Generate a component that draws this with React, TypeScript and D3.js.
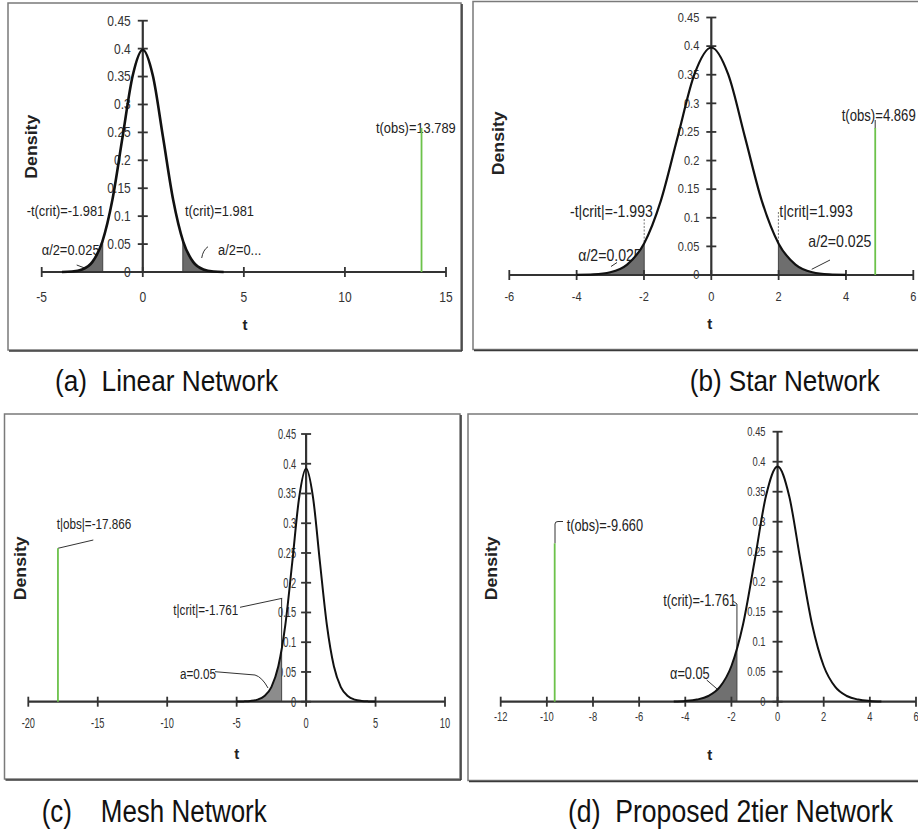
import React from 'react';
import * as d3 from 'd3';

// ---------- data ----------
// density curves (t, density) for each panel
const tGridLinear = [-4, -3.5, -3, -2.5, -2, -1.5, -1, -0.5, 0, 0.5, 1, 1.5, 2, 2.5, 3, 3.5, 4];
const densityLinear = [0.0001, 0.0009, 0.0045, 0.0177, 0.0545, 0.1298, 0.2416, 0.3513, 0.398, 0.3513, 0.2416, 0.1298, 0.0545, 0.0177, 0.0045, 0.0009, 0.0001];

const tGridStar = [-4, -3.5, -3, -2.5, -2, -1.5, -1, -0.5, 0, 0.5, 1, 1.5, 2, 2.5, 3, 3.5, 4];
const densityStar = [0.0002, 0.001, 0.0048, 0.0182, 0.0548, 0.1296, 0.241, 0.351, 0.3976, 0.351, 0.241, 0.1296, 0.0548, 0.0182, 0.0048, 0.001, 0.0002];

const tGridMesh = [-5, -4.5, -4, -3.5, -3, -2.5, -2, -1.5, -1, -0.5, 0, 0.5, 1, 1.5, 2, 2.5, 3, 3.5, 4, 4.5, 5];
const densityMesh = [0.0002, 0.0005, 0.0013, 0.0035, 0.0095, 0.0246, 0.0595, 0.1282, 0.2336, 0.3432, 0.392, 0.3432, 0.2336, 0.1282, 0.0595, 0.0246, 0.0095, 0.0035, 0.0013, 0.0005, 0.0002];

const tGrid2tier = [-4.5, -4, -3.5, -3, -2.5, -2, -1.5, -1, -0.5, 0, 0.5, 1, 1.5, 2, 2.5, 3, 3.5, 4, 4.5];
const density2tier = [0.0005, 0.0013, 0.0035, 0.0095, 0.0246, 0.0595, 0.1282, 0.2336, 0.3432, 0.392, 0.3432, 0.2336, 0.1282, 0.0595, 0.0246, 0.0095, 0.0035, 0.0013, 0.0005];

// critical values, density at the critical value, observed t and height of its marker
const tCritValues = [1.981, 1.993, -1.761, -1.761];
const critDensity = [0.0562, 0.0555, 0.0874, 0.0874];
const twoTailed = [true, true, false, false];
const tObsValues = [13.789, 4.869, -17.866, -9.66];
const obsMarkerHeight = [0.258, 0.257, 0.258, 0.264];

// axis ticks
const xTicksLinear = [-5, 0, 5, 10, 15];
const xTicksStar = [-6, -4, -2, 0, 2, 4, 6];
const xTicksMesh = [-20, -15, -10, -5, 0, 5, 10];
const xTicks2tier = [-12, -10, -8, -6, -4, -2, 0, 2, 4, 6];
const yTicks = [0, 0.05, 0.1, 0.15, 0.2, 0.25, 0.3, 0.35, 0.4, 0.45];
const yTickLabels = ['0', '0.05', '0.1', '0.15', '0.2', '0.25', '0.3', '0.35', '0.4', '0.45'];

// texts
const captions = ['(a)  Linear Network', '(b) Star Network', '(c)    Mesh Network', '(d)  Proposed 2tier Network'];
const annotLinear = ['-t(crit)=-1.981', 't(crit)=1.981', 'α/2=0.025', 'a/2=0...', 't(obs)=13.789'];
const annotStar = ['-t|crit|=-1.993', 't|crit|=1.993', 'α/2=0.025', 'a/2=0.025', 't(obs)=4.869'];
const annotMesh = ['t|obs|=-17.866', 't|crit|=-1.761', 'a=0.05'];
const annot2tier = ['t(obs)=-9.660', 't(crit)=-1.761', 'α=0.05'];
const yAxisTitle = 'Density';
const xAxisTitle = 't';

// ---------- layout ----------
type Ann = { text: string; x: number; y: number; sx?: number };
type Panel = {
  frame: [number, number, number, number];
  xDomain: [number, number];
  xRange: [number, number];
  yRange: [number, number];
  xTicks: number[];
  tGrid: number[];
  dens: number[];
  tickFs: number; tickSx: number; xLabOff: number; yLabOff: number;
  annFs: number; annSx: number;
  anns: Ann[];
  leaders: string[];
  density: [number, number];
  tTitle: [number, number];
  shade: string;
  curveW: number;
  axisW: number;
};

const panels: Panel[] = [
  {
    frame: [8, 3, 453, 347],
    xDomain: [-5, 15], xRange: [41.7, 446], yRange: [272, 20.7],
    xTicks: xTicksLinear, tGrid: tGridLinear, dens: densityLinear,
    tickFs: 14, tickSx: 0.86, xLabOff: 25, yLabOff: 12,
    annFs: 14, annSx: 0.92,
    anns: [
      { text: annotLinear[0], x: 26.7, y: 210.7 },
      { text: annotLinear[1], x: 185, y: 210.7 },
      { text: annotLinear[2], x: 41.7, y: 250 },
      { text: annotLinear[3], x: 218, y: 250 },
      { text: annotLinear[4], x: 376, y: 127.7 },
    ],
    leaders: ['M201.7,258 Q203,250 208,246.7', 'M76.7,265 L86,268.5'],
    density: [31.7, 146.7], tTitle: [245, 325],
    shade: '#6b6b6b', curveW: 2.6, axisW: 2.2,
  },
  {
    frame: [473, 1.5, 460, 348],
    xDomain: [-6, 6], xRange: [509.3, 913.3], yRange: [275, 17.5],
    xTicks: xTicksStar, tGrid: tGridStar, dens: densityStar,
    tickFs: 12, tickSx: 0.92, xLabOff: 22, yLabOff: 12,
    annFs: 16, annSx: 0.88,
    anns: [
      { text: annotStar[0], x: 570, y: 211.7 },
      { text: annotStar[1], x: 779.3, y: 211.7 },
      { text: annotStar[2], x: 578.3, y: 255 },
      { text: annotStar[3], x: 808.3, y: 241.7 },
      { text: annotStar[4], x: 841.7, y: 115, sx: 0.82 },
    ],
    leaders: ['M811.7,269.3 L830,260', 'M611,266.5 L617,262.5', 'M875.2,128.5 L875.2,120'],
    density: [498.3, 143.3], tTitle: [709.7, 323.3],
    shade: '#6e6e6e', curveW: 2.2, axisW: 2.2,
  },
  {
    frame: [4.5, 414, 455.5, 365],
    xDomain: [-20, 10], xRange: [28.3, 445], yRange: [701.7, 434],
    xTicks: xTicksMesh, tGrid: tGridMesh, dens: densityMesh,
    tickFs: 14, tickSx: 0.66, xLabOff: 21.6, yLabOff: 10,
    annFs: 15, annSx: 0.78,
    anns: [
      { text: annotMesh[0], x: 56.7, y: 523.3 },
      { text: annotMesh[1], x: 173.3, y: 609.3 },
      { text: annotMesh[2], x: 180, y: 673.3 },
    ],
    leaders: ['M240,607.3 L282.2,598.3', 'M215,671.7 L255,675 Q262,677 268,688', 'M57.9,548.3 L93.3,540'],
    density: [20, 568.3], tTitle: [236.7, 753.3],
    shade: '#8c8c8c', curveW: 2, axisW: 2.2,
  },
  {
    frame: [468, 414, 460, 366.5],
    xDomain: [-12, 6], xRange: [500.7, 916], yRange: [701.7, 431.7],
    xTicks: xTicks2tier, tGrid: tGrid2tier, dens: density2tier,
    tickFs: 12, tickSx: 0.78, xLabOff: 15, yLabOff: 12,
    annFs: 16, annSx: 0.8,
    anns: [
      { text: annot2tier[0], x: 566.7, y: 525.7 },
      { text: annot2tier[1], x: 663.3, y: 600 },
      { text: annot2tier[2], x: 670, y: 673.3 },
    ],
    leaders: ['M733,601 L737,604', 'M706.7,680 L718.3,690', 'M555,543.3 L555,524 Q555,521.5 558,521.5 L563,521.5'],
    density: [491.7, 568.3], tTitle: [709.7, 755],
    shade: '#707070', curveW: 2, axisW: 2.2,
  },
];

const captionPos: [number, number, number, number][] = [
  [55, 390.5, 223, 1.12],
  [689.7, 391, 190, 1.12],
  [41.7, 822, 225, 1.2],
  [568, 822, 325, 1.2],
];

const FONT = '"Liberation Sans", Arial, Helvetica, sans-serif';

function STxt({ x, y, fs, sx, anchor = 'start', fill = '#222', weight = 400, children }: any) {
  return (
    <text
      transform={`translate(${x},${y}) scale(${sx},1)`}
      fontSize={fs}
      fontFamily={FONT}
      fontWeight={weight}
      textAnchor={anchor}
      dy="0.35em"
      fill={fill}
    >
      {children}
    </text>
  );
}

function PanelView({ p, i }: { p: Panel; i: number }) {
  const x = d3.scaleLinear().domain(p.xDomain).range(p.xRange);
  const y = d3.scaleLinear().domain([0, 0.45]).range(p.yRange);
  const pts: [number, number][] = p.tGrid.map((t, k) => [t, p.dens[k]]);
  const line = d3.line<[number, number]>().x(d => x(d[0])).y(d => y(d[1])).curve(d3.curveMonotoneX);
  const area = d3.area<[number, number]>().x(d => x(d[0])).y0(y(0)).y1(d => y(d[1])).curve(d3.curveMonotoneX);

  const tc = tCritValues[i];
  const cd = critDensity[i];
  const leftPts: [number, number][] = [
    ...pts.filter(d => d[0] < -Math.abs(tc)),
    [-Math.abs(tc), cd],
  ];
  const rightPts: [number, number][] = [
    [Math.abs(tc), cd],
    ...pts.filter(d => d[0] > Math.abs(tc)),
  ];

  const [fx, fy, fw, fh] = p.frame;
  const x0 = x(0);
  const y0 = y(0);
  const tObs = tObsValues[i];

  return (
    <g>
      {/* frame */}
      <rect x={fx} y={fy} width={fw} height={fh} fill="#fff" stroke="#7a7a7a" strokeWidth={1.5} />
      <line x1={fx + 1} y1={fy + fh + 1} x2={fx + fw + 1} y2={fy + fh + 1} stroke="#3a3a3a" strokeWidth={1.6} />
      <line x1={fx + fw + 1} y1={fy + 1} x2={fx + fw + 1} y2={fy + fh + 1} stroke="#3a3a3a" strokeWidth={1.6} />

      {/* annotations */}
      {p.anns.map((a, k) => (
        <STxt key={k} x={a.x} y={a.y} fs={p.annFs} sx={a.sx ?? p.annSx}>{a.text}</STxt>
      ))}
      {p.leaders.map((d, k) => (
        <path key={k} d={d} fill="none" stroke="#333" strokeWidth={1} />
      ))}

      {/* tick labels */}
      {p.xTicks.map(t => (
        <STxt key={t} x={x(t)} y={y0 + p.xLabOff} fs={p.tickFs} sx={p.tickSx} anchor="middle" fill="#333">
          {String(t)}
        </STxt>
      ))}
      {yTicks.map((v, k) => (
        <STxt key={k} x={x0 - p.yLabOff} y={y(v)} fs={p.tickFs} sx={p.tickSx} anchor="end" fill="#333">
          {yTickLabels[k]}
        </STxt>
      ))}

      {/* shading */}
      <path d={area(leftPts) || ''} fill={p.shade} />
      {twoTailed[i] && <path d={area(rightPts) || ''} fill={p.shade} />}
      <line x1={x(-Math.abs(tc))} x2={x(-Math.abs(tc))} y1={y0} y2={y(cd)} stroke="#444" strokeWidth={1} />
      {twoTailed[i] && (
        <line x1={x(Math.abs(tc))} x2={x(Math.abs(tc))} y1={y0} y2={y(cd)} stroke="#444" strokeWidth={1} />
      )}
      {/* crit leader verticals */}
      {i === 1 && (
        <g stroke="#555" strokeWidth={0.8} strokeDasharray="2,1.5">
          <line x1={x(-tc)} x2={x(-tc)} y1={219} y2={y(cd)} />
          <line x1={x(tc)} x2={x(tc)} y1={212} y2={y(cd)} />
        </g>
      )}
      {i === 2 && <line x1={x(tc)} x2={x(tc)} y1={598.3} y2={y(cd)} stroke="#333" strokeWidth={1} />}
      {i === 3 && <line x1={x(tc)} x2={x(tc)} y1={604} y2={y(cd)} stroke="#333" strokeWidth={1} />}

      {/* axes */}
      <line x1={x(p.xDomain[0])} x2={x(p.xDomain[1])} y1={y0} y2={y0} stroke="#333" strokeWidth={p.axisW} />
      {p.xTicks.map(t => (
        <line key={t} x1={x(t)} x2={x(t)} y1={y0 - 5} y2={y0 + 5} stroke="#333" strokeWidth={1.8} />
      ))}
      <line x1={x0} x2={x0} y1={y0} y2={y(0.45)} stroke="#333" strokeWidth={p.axisW} />
      {yTicks.map((v, k) => (
        <line key={k} x1={x0 - 5} x2={x0 + 5} y1={y(v)} y2={y(v)} stroke="#333" strokeWidth={1.8} />
      ))}

      {/* curve */}
      <path d={line(pts) || ''} fill="none" stroke="#111" strokeWidth={p.curveW} />

      {/* observed t */}
      <line x1={x(tObs)} x2={x(tObs)} y1={y0} y2={y(obsMarkerHeight[i])} stroke="#6cc24a" strokeWidth={1.8} />

      {/* axis titles */}
      <text
        transform={`translate(${p.density[0]},${p.density[1]}) rotate(-90)`}
        fontSize={16}
        fontWeight={700}
        fontFamily={FONT}
        textAnchor="middle"
        dy="0.35em"
        textLength={64}
        lengthAdjust="spacingAndGlyphs"
        fill="#222"
      >
        {yAxisTitle}
      </text>
      <text x={p.tTitle[0]} y={p.tTitle[1]} fontSize={15} fontWeight={700} fontFamily={FONT} textAnchor="middle" dy="0.35em" fill="#222">
        {xAxisTitle}
      </text>
    </g>
  );
}

export default function App() {
  return (
    <svg
      width={918}
      height={829}
      viewBox="0 0 918 829"
      style={{ position: 'absolute', left: 0, top: 0, background: '#fff' }}
    >
      <rect x={0} y={0} width={918} height={829} fill="#fff" />
      {panels.map((p, i) => (
        <PanelView key={i} p={p} i={i} />
      ))}
      {captions.map((c, i) => {
        const [cx, cy, w, sy] = captionPos[i];
        return (
          <text
            key={i}
            transform={`translate(${cx},${cy}) scale(1,${sy})`}
            fontSize={26}
            fontFamily={FONT}
            textLength={w}
            lengthAdjust="spacingAndGlyphs"
            fill="#111"
            style={{ whiteSpace: 'pre' }}
          >
            {c}
          </text>
        );
      })}
    </svg>
  );
}
